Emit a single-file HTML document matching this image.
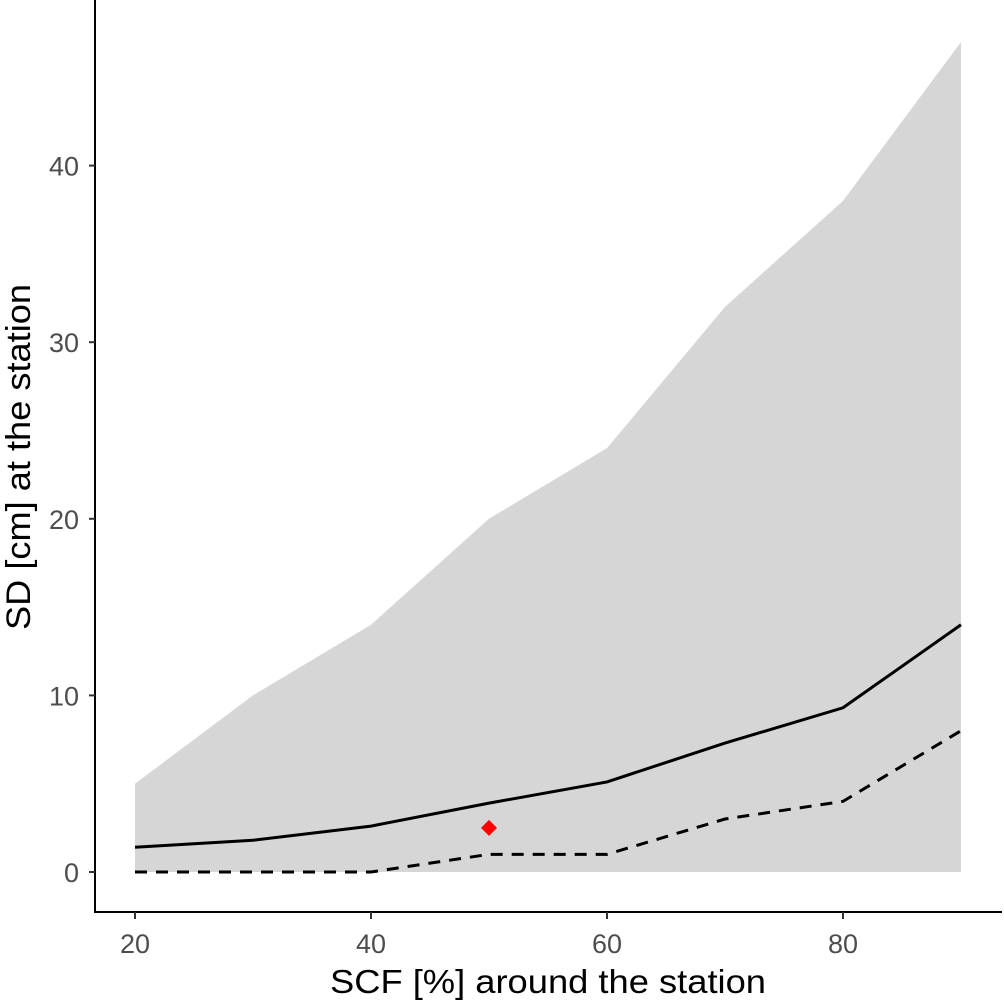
<!DOCTYPE html>
<html><head><meta charset="utf-8"><style>
html,body{margin:0;padding:0;background:#fff;}
svg{display:block;font-family:"Liberation Sans",sans-serif;}
</style></head><body>
<svg id="chart" width="1004" height="1002" viewBox="0 0 1004 1002">
<g id="plot"></g>
<line x1="95" y1="0" x2="95" y2="913" stroke="#000" stroke-width="2"/>
<line x1="94" y1="912" x2="1002" y2="912" stroke="#000" stroke-width="2"/>
<g id="yticks"></g>
<g id="xticks"></g>
<text x="548" y="993" text-anchor="middle" font-size="33" textLength="436" lengthAdjust="spacingAndGlyphs" fill="#000">SCF [%] around the station</text>
<text transform="translate(30,457) rotate(-90)" text-anchor="middle" font-size="34" textLength="346" lengthAdjust="spacingAndGlyphs" fill="#000">SD [cm] at the station</text>
</svg>
<script>
const xs = [20,30,40,50,60,70,80,90];
const upper = [5,10,14,20,24,32,38,47];
const lower = [0,0,0,0,0,0,0,0];
const median = [1.4,1.8,2.6,3.9,5.1,7.3,9.3,14];
const low = [0,0,0,1,1,3,4,8];
const point = [50,2.5];
const xTicks = [20,40,60,80];
const yTicks = [0,10,20,30,40];

const X = v => 135 + (v-20)*11.8;
const Y = v => 872 - v*17.66;
const NS = "http://www.w3.org/2000/svg";
const plot = document.getElementById('plot');
function mk(tag, attrs, parent){const e=document.createElementNS(NS,tag);for(const k in attrs)e.setAttribute(k,attrs[k]);parent.appendChild(e);return e;}

let d = xs.map((x,i)=>(i?'L':'M')+X(x)+','+Y(upper[i])).join(' ');
for(let i=xs.length-1;i>=0;i--) d+=' L'+X(xs[i])+','+Y(lower[i]);
const rib = mk('path',{d:d+' Z',fill:'#d6d6d6'},plot);



const ml = mk('polyline',{points:xs.map((x,i)=>X(x)+','+Y(median[i])).join(' '),fill:'none',stroke:'#000','stroke-width':3},plot);



const dl = mk('polyline',{points:xs.map((x,i)=>X(x)+','+Y(low[i])).join(' '),fill:'none',stroke:'#000','stroke-width':3,'stroke-dasharray':'12,9'},plot);



const px=X(point[0]), py=Y(point[1]);
const pt = mk('polygon',{points:`${px},${py-8} ${px+8},${py} ${px},${py+8} ${px-8},${py}`,fill:'#ff0000'},plot);



const yt=document.getElementById('yticks');
yTicks.forEach(v=>{
  const l=mk('line',{x1:89,x2:95,y1:Y(v),y2:Y(v),stroke:'#333','stroke-width':2},yt);
  
  
  const t=mk('text',{x:79,y:Y(v)+10,'text-anchor':'end','font-size':27,fill:'#4d4d4d'},yt);
  t.textContent=v;
  
  
});
const xt=document.getElementById('xticks');
xTicks.forEach(v=>{
  const l=mk('line',{x1:X(v),x2:X(v),y1:912,y2:919,stroke:'#333','stroke-width':2},xt);
  
  
  const t=mk('text',{x:X(v),y:953,'text-anchor':'middle','font-size':27,fill:'#4d4d4d'},xt);
  t.textContent=v;
  
  
});
</script>
</body></html>
